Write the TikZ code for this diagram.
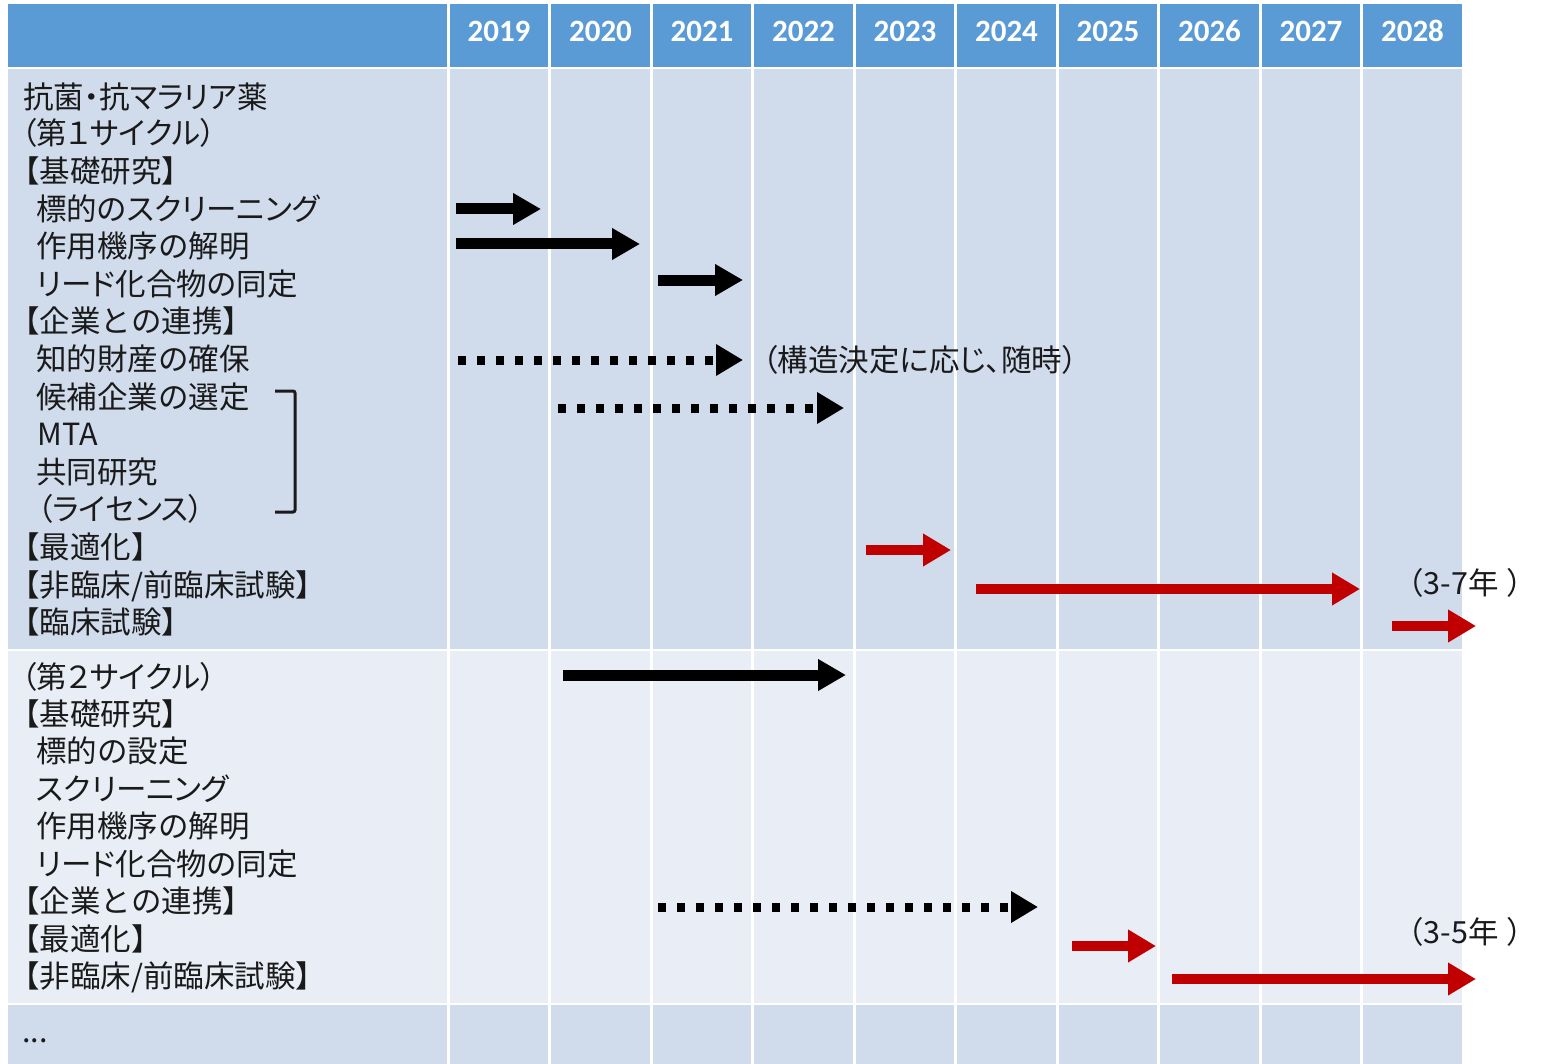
\documentclass[tikz,border=0pt]{standalone}
\usepackage{fontspec}
\setmainfont{Noto Sans CJK JP}
\newfontfamily\jpp{Noto Sans CJK JP}[RawFeature=+palt]
\newfontfamily\yrfont{Carlito}
\usetikzlibrary{arrows.meta}
\definecolor{hdr}{HTML}{5B9BD5}
\definecolor{rowA}{HTML}{D0DBEC}
\definecolor{rowB}{HTML}{E9EEF6}
\definecolor{barred}{HTML}{C00000}
\definecolor{ink}{HTML}{1A1A1A}
\tikzset{
  lbl/.style={anchor=west, inner sep=0pt, text height=13.42pt, text depth=1.83pt,
    font=\fontsize{15.25pt}{15.25pt}\selectfont, text=ink},
  plbl/.style={lbl, font=\jpp\fontsize{15.25pt}{15.25pt}\selectfont},
  yr/.style={inner sep=0pt, font=\yrfont\bfseries\fontsize{15.5pt}{15.5pt}\selectfont, text=white},
  solidarr/.style={line width=5.5pt, draw=black, -{Triangle[length=14pt,width=15pt]}},
  redarr/.style={line width=5pt, draw=barred, -{Triangle[length=14pt,width=15.5pt]}},
  dotarr/.style={line width=4.5pt, draw=black, dash pattern=on 4.2pt off 5.3pt,
    -{Triangle[length=13.5pt,width=15pt]}},
}
\begin{document}
\begin{tikzpicture}[x=0.5pt,y=-0.5pt]
\useasboundingbox (0,0) rectangle (1546,1064);
\fill[white] (0,0) rectangle (1546,1064);
% header and rows
\def\bnds{448,549.5,651,752.5,854,955.5,1057,1158.5,1260,1361.5}
\fill[hdr] (8,4) rectangle (446.5,67);
\fill[rowA] (8,69) rectangle (446.5,649);
\fill[rowB] (8,651) rectangle (446.5,1003);
\fill[rowA] (8,1005) rectangle (446.5,1064);
\foreach \b in \bnds {
  \pgfmathsetmacro{\l}{\b+1.5}
  \pgfmathsetmacro{\r}{\b+100}
  \fill[hdr] (\l,4) rectangle (\r,67);
  \fill[rowA] (\l,69) rectangle (\r,649);
  \fill[rowB] (\l,651) rectangle (\r,1003);
  \fill[rowA] (\l,1005) rectangle (\r,1064);
}
% years
\node[yr] (y2019) at (499,31) {2019};
\node[yr] (y2020) at (600.5,31) {2020};
\node[yr] (y2021) at (702,31) {2021};
\node[yr] (y2022) at (803.5,31) {2022};
\node[yr] (y2023) at (905,31) {2023};
\node[yr] (y2024) at (1006.5,31) {2024};
\node[yr] (y2025) at (1108,31) {2025};
\node[yr] (y2026) at (1209.5,31) {2026};
\node[yr] (y2027) at (1311,31) {2027};
\node[yr] (y2028) at (1412.5,31) {2028};
% row 1 labels
\node[plbl] (a1) at (23,97) {抗菌・抗マラリア薬};
\node[plbl] (a2) at (21,133) {（第１サイクル）};
\node[lbl] (a3) at (9,171) {【基礎研究】};
\node[plbl] (a4) at (36,209) {標的のスクリーニング};
\node[lbl] (a5) at (36,246) {作用機序の解明};
\node[plbl] (a6) at (36,284) {リード化合物の同定};
\node[lbl] (a7) at (9,321) {【企業との連携】};
\node[lbl] (a8) at (36,359) {知的財産の確保};
\node[lbl] (a9) at (36,397) {候補企業の選定};
\node[lbl] (a10) at (37,434) {MTA};
\node[lbl] (a11) at (36,472) {共同研究};
\node[plbl] (a12) at (37,509) {（ライセンス）};
\node[lbl] (a13) at (9,547) {【最適化】};
\node[lbl] (a14) at (9,585) {【非臨床/前臨床試験】};
\node[lbl] (a15) at (9,622) {【臨床試験】};
% row 2 labels
\node[plbl] (b1) at (21,677) {（第２サイクル）};
\node[lbl] (b2) at (9,714) {【基礎研究】};
\node[lbl] (b3) at (36,751) {標的の設定};
\node[plbl] (b4) at (36,789) {スクリーニング};
\node[lbl] (b5) at (36,826) {作用機序の解明};
\node[plbl] (b6) at (36,864) {リード化合物の同定};
\node[lbl] (b7) at (9,901) {【企業との連携】};
\node[lbl] (b8) at (9,939) {【最適化】};
\node[lbl] (b9) at (9,976) {【非臨床/前臨床試験】};
% row 3
\node[lbl] (c1) at (22,1031) {...};
% bracket
\draw[ink, line width=1.5pt, rounded corners=1pt] (275,391) -- (295,391) -- (295,512) -- (275,512);
% side notes
\node[plbl] (n1) at (762,360) {（構造決定に応じ、随時）};
\node[lbl] (n2) at (1393,583) {（3-7年\kern4pt）};
\node[lbl] (n3) at (1393,932) {（3-5年\kern4pt）};
% arrow end points
\coordinate (s1) at (456,209); \coordinate (e1) at (541,209);
\coordinate (s2) at (456,244); \coordinate (e2) at (640,244);
\coordinate (s3) at (658,280); \coordinate (e3) at (743,280);
\coordinate (s4) at (458,360); \coordinate (e4) at (743,360);
\coordinate (s5) at (558,408); \coordinate (e5) at (844,408);
\coordinate (s6) at (866,550); \coordinate (e6) at (951,550);
\coordinate (s7) at (976,589); \coordinate (e7) at (1360,589);
\coordinate (s8) at (1392,626); \coordinate (e8) at (1476,626);
\coordinate (s9) at (563,675); \coordinate (e9) at (846,675);
\coordinate (s10) at (658,907); \coordinate (e10) at (1038,907);
\coordinate (s11) at (1072,946); \coordinate (e11) at (1156,946);
\coordinate (s12) at (1172,979); \coordinate (e12) at (1476,979);
% arrows
\draw[solidarr] (s1) -- (e1);
\draw[solidarr] (s2) -- (e2);
\draw[solidarr] (s3) -- (e3);
\draw[dotarr] (s4) -- (e4);
\draw[dotarr] (s5) -- (e5);
\draw[redarr] (s6) -- (e6);
\draw[redarr] (s7) -- (e7);
\draw[redarr] (s8) -- (e8);
\draw[solidarr] (s9) -- (e9);
\draw[dotarr] (s10) -- (e10);
\draw[redarr] (s11) -- (e11);
\draw[redarr] (s12) -- (e12);
\end{tikzpicture}
\end{document}
